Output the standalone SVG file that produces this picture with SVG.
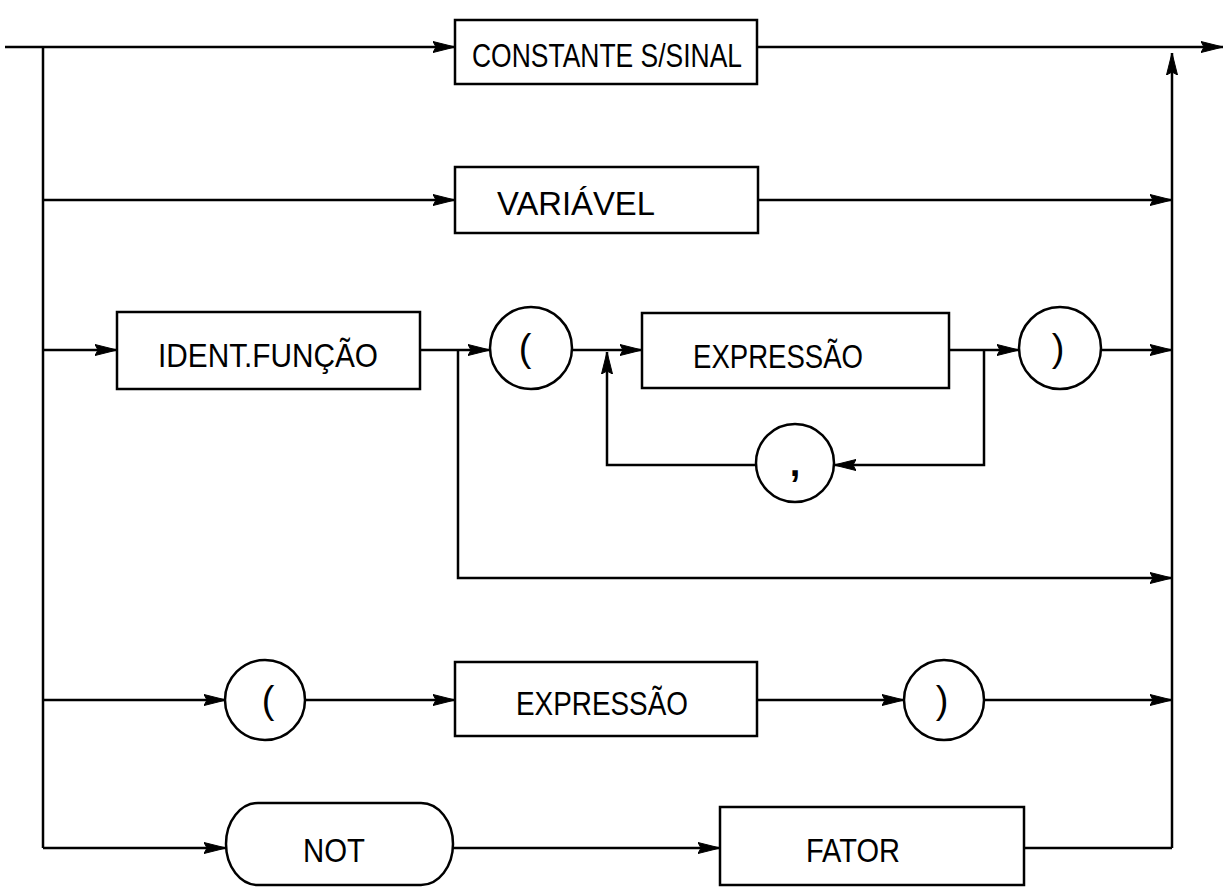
<svg xmlns="http://www.w3.org/2000/svg" width="1229" height="887" viewBox="0 0 1229 887">
<style>
.s{fill:none;stroke:#000;stroke-width:2.5}
.n{fill:#fff;stroke:#000;stroke-width:2.5}
.t{font-family:"Liberation Sans",Arial,sans-serif;font-size:33px;fill:#000}
.p{font-family:"Liberation Sans",Arial,sans-serif;font-size:38px;fill:#000;text-anchor:middle}
</style>
<defs>
<marker id="a" viewBox="0 0 22 12" refX="22" refY="6" markerWidth="22" markerHeight="12" markerUnits="userSpaceOnUse" orient="auto">
<path d="M0,0.5 L22,6 L0,11.5 L3,6 Z" fill="#000" stroke="#000" stroke-width="1"/>
</marker>
</defs>
<rect width="1229" height="887" fill="#fff"/>
<g id="connectors" class="s">
<line x1="5" y1="47" x2="455" y2="47" marker-end="url(#a)"/>
<line x1="757" y1="47" x2="1223" y2="47" marker-end="url(#a)"/>
<line x1="43" y1="47" x2="43" y2="848"/>
<line x1="1172" y1="848" x2="1172" y2="53" marker-end="url(#a)"/>
<line x1="43" y1="200" x2="455" y2="200" marker-end="url(#a)"/>
<line x1="758" y1="200" x2="1172" y2="200" marker-end="url(#a)"/>
<line x1="43" y1="350" x2="117" y2="350" marker-end="url(#a)"/>
<line x1="420" y1="350" x2="490" y2="350" marker-end="url(#a)"/>
<line x1="572" y1="350" x2="642" y2="350" marker-end="url(#a)"/>
<line x1="949" y1="350" x2="1019" y2="350" marker-end="url(#a)"/>
<line x1="1101" y1="350" x2="1172" y2="350" marker-end="url(#a)"/>
<polyline points="458,350 458,578 1172,578" marker-end="url(#a)"/>
<polyline points="984,350 984,465 834,465" marker-end="url(#a)"/>
<polyline points="756,465 607,465 607,352" marker-end="url(#a)"/>
<line x1="43" y1="700" x2="226" y2="700" marker-end="url(#a)"/>
<line x1="304" y1="700" x2="455" y2="700" marker-end="url(#a)"/>
<line x1="757" y1="700" x2="904" y2="700" marker-end="url(#a)"/>
<line x1="985" y1="700" x2="1172" y2="700" marker-end="url(#a)"/>
<line x1="43" y1="848" x2="226" y2="848" marker-end="url(#a)"/>
<line x1="453" y1="848" x2="720" y2="848" marker-end="url(#a)"/>
<line x1="1024" y1="848" x2="1172" y2="848"/>
</g>
<g id="constante">
<rect class="n" x="455" y="20" width="302" height="64"/>
<text class="t" x="472" y="67" textLength="270" lengthAdjust="spacingAndGlyphs">CONSTANTE S/SINAL</text>
</g>
<g id="variavel">
<rect class="n" x="455" y="167" width="303" height="66"/>
<text class="t" x="497" y="215" textLength="158" lengthAdjust="spacingAndGlyphs">VARIÁVEL</text>
</g>
<g id="ident">
<rect class="n" x="117" y="312" width="303" height="77"/>
<text class="t" x="158" y="367" textLength="220" lengthAdjust="spacingAndGlyphs">IDENT.FUNÇÃO</text>
</g>
<g id="lparen1">
<circle class="n" cx="531" cy="348" r="41"/>
<text class="p" x="525" y="361">(</text>
</g>
<g id="expr1">
<rect class="n" x="642" y="313" width="307" height="75"/>
<text class="t" x="693" y="368" textLength="170" lengthAdjust="spacingAndGlyphs">EXPRESSÃO</text>
</g>
<g id="rparen1">
<circle class="n" cx="1060" cy="348" r="41"/>
<text class="p" x="1058" y="361">)</text>
</g>
<g id="comma">
<circle class="n" cx="795" cy="463" r="39"/>
<text class="p" x="795" y="476" font-weight="bold">,</text>
</g>
<g id="lparen2">
<circle class="n" cx="265" cy="700" r="40"/>
<text class="p" x="268" y="713">(</text>
</g>
<g id="expr2">
<rect class="n" x="455" y="662" width="302" height="74"/>
<text class="t" x="516" y="715" textLength="172" lengthAdjust="spacingAndGlyphs">EXPRESSÃO</text>
</g>
<g id="rparen2">
<circle class="n" cx="944" cy="700" r="40"/>
<text class="p" x="942" y="713">)</text>
</g>
<g id="not">
<rect class="n" x="226" y="803" width="227" height="82" rx="32" ry="41"/>
<text class="t" x="303" y="862" textLength="62" lengthAdjust="spacingAndGlyphs">NOT</text>
</g>
<g id="fator">
<rect class="n" x="720" y="807" width="304" height="78"/>
<text class="t" x="806" y="862" textLength="94" lengthAdjust="spacingAndGlyphs">FATOR</text>
</g>
</svg>
